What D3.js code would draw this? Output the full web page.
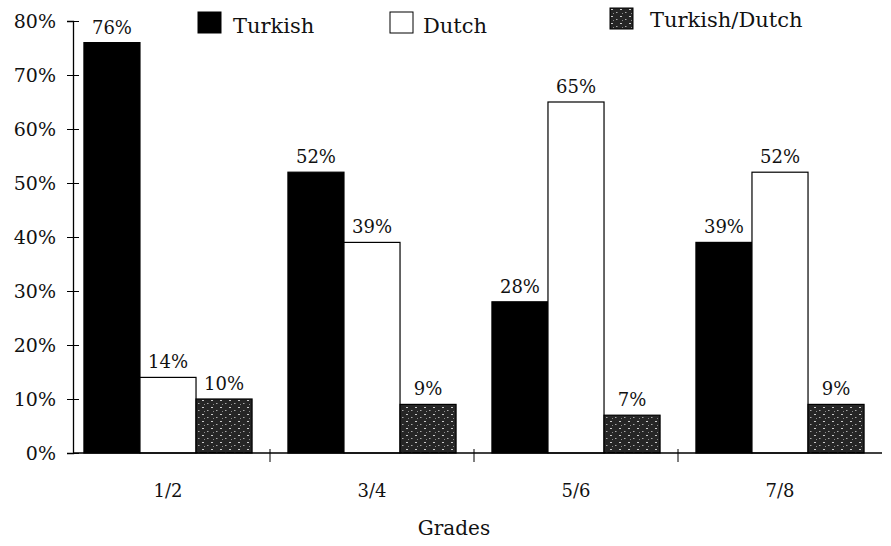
<!DOCTYPE html>
<html>
<head>
<meta charset="utf-8">
<script src="https://cdn.jsdelivr.net/npm/d3@7"></script>
<style>
  body { margin: 0; background: #fff; }
  text { font-family: "DejaVu Serif", "Liberation Serif", serif; fill: #111; }
</style>
</head>
<body>
<div id="chart"></div>
<script>
// grades and shares of each language group
const grades = ["1/2", "3/4", "5/6", "7/8"]
const series = ["Turkish", "Dutch", "Turkish/Dutch"]
const turkish = [76, 52, 28, 39]
const dutch = [14, 39, 65, 52]
const mixed = [10, 9, 7, 9]
const yTicks = [0, 10, 20, 30, 40, 50, 60, 70, 80]

const width = 891, height = 546
const margin = { top: 21, right: 9, bottom: 93, left: 73 }

const svg = d3.select("#chart").append("svg")
    .attr("width", width)
    .attr("height", height)

// noisy dark fill for the mixed bars
const defs = svg.append("defs")
const pat = defs.append("pattern")
    .attr("id", "speckle")
    .attr("patternUnits", "userSpaceOnUse")
    .attr("width", 9).attr("height", 7)
pat.append("rect").attr("width", 9).attr("height", 7).attr("fill", "#262626")
pat.append("rect").attr("x", 1).attr("y", 1).attr("width", 2).attr("height", 1).attr("fill", "#ccc")
pat.append("rect").attr("x", 6).attr("y", 4).attr("width", 1.5).attr("height", 1).attr("fill", "#aaa")
pat.append("rect").attr("x", 3).attr("y", 5).attr("width", 1).attr("height", 1).attr("fill", "#888")

// groups sit a little wider than the axis span, like the scan
const x = d3.scaleBand()
    .domain(grades)
    .range([66, 882])

const xs = d3.scaleBand()
    .domain(series)
    .range([0, x.bandwidth()])
    .paddingOuter(0.32)

const y = d3.scaleLinear()
    .domain([0, 80])
    .range([height - margin.bottom, margin.top])

const fills = { "Turkish": "#000", "Dutch": "#fff", "Turkish/Dutch": "url(#speckle)" }

const rows = grades.map((g, i) => ({
    grade: g,
    values: [
        { key: "Turkish", val: turkish[i] },
        { key: "Dutch", val: dutch[i] },
        { key: "Turkish/Dutch", val: mixed[i] }
    ]
}))

const group = svg.selectAll(".grade")
    .data(rows)
    .enter()
    .append("g")
    .attr("class", "grade")
    .attr("transform", d => "translate(" + x(d.grade) + ",0)")

group.selectAll("rect")
    .data(d => d.values)
    .enter()
    .append("rect")
    .attr("x", d => xs(d.key))
    .attr("y", d => y(d.val))
    .attr("width", xs.bandwidth())
    .attr("height", d => y(0) - y(d.val))
    .attr("fill", d => fills[d.key])
    .attr("stroke", "#000")
    .attr("stroke-width", 1.2)

group.selectAll(".lbl")
    .data(d => d.values)
    .enter()
    .append("text")
    .attr("class", "lbl")
    .attr("x", d => xs(d.key) + xs.bandwidth() / 2)
    .attr("y", d => y(d.val) - 9)
    .attr("text-anchor", "middle")
    .attr("font-size", 18)
    .text(d => d.val + "%")

// y axis with ticks crossing the line
const yAxis = d3.axisLeft(y)
    .tickValues(yTicks)
    .tickSize(6)
    .tickFormat(d => d + "%")
const ya = svg.append("g")
    .attr("transform", "translate(" + margin.left + ",0)")
    .call(yAxis)
ya.select(".domain").attr("stroke", "#000").attr("stroke-width", 1.3)
ya.selectAll(".tick line").attr("x1", -6).attr("x2", 6).attr("stroke", "#000")
ya.selectAll(".tick text")
    .attr("x", -17)
    .attr("dy", "0.36em")
    .attr("font-size", 19)
    .style("font-family", "DejaVu Serif, serif")
    .attr("fill", "#111")

// x baseline with separators between grades
svg.append("line")
    .attr("x1", margin.left).attr("x2", width - margin.right)
    .attr("y1", y(0)).attr("y2", y(0))
    .attr("stroke", "#000").attr("stroke-width", 1.3)

svg.selectAll(".sep")
    .data(grades.slice(1))
    .enter()
    .append("line")
    .attr("class", "sep")
    .attr("x1", d => x(d)).attr("x2", d => x(d))
    .attr("y1", y(0) - 4).attr("y2", y(0) + 9)
    .attr("stroke", "#000")

svg.selectAll(".glbl")
    .data(grades)
    .enter()
    .append("text")
    .attr("class", "glbl")
    .attr("x", d => x(d) + x.bandwidth() / 2)
    .attr("y", 497)
    .attr("text-anchor", "middle")
    .attr("font-size", 18)
    .text(d => d)

svg.append("text")
    .attr("x", 454)
    .attr("y", 535)
    .attr("text-anchor", "middle")
    .attr("font-size", 20)
    .text("Grades")

// legend
const legendPos = [
    { key: "Turkish", x: 198, y: 12, tx: 35, ty: 21 },
    { key: "Dutch", x: 390, y: 12, tx: 33, ty: 21 },
    { key: "Turkish/Dutch", x: 610, y: 8, tx: 40, ty: 19 }
]
const leg = svg.selectAll(".leg")
    .data(legendPos)
    .enter()
    .append("g")
    .attr("class", "leg")
    .attr("transform", d => "translate(" + d.x + "," + d.y + ")")
leg.append("rect")
    .attr("width", 23).attr("height", 21)
    .attr("fill", d => fills[d.key])
    .attr("stroke", "#000")
leg.append("text")
    .attr("x", d => d.tx)
    .attr("y", d => d.ty)
    .attr("font-size", 21)
    .text(d => d.key)
</script>
</body>
</html>
